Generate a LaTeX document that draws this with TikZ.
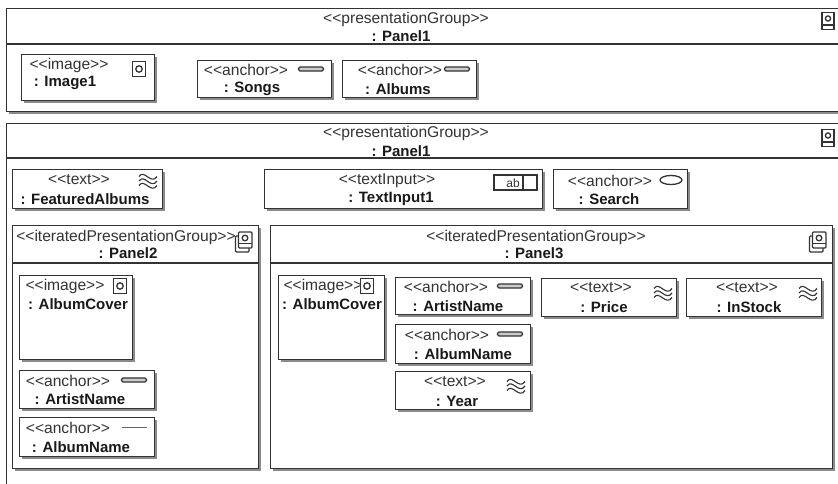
\documentclass[tikz,border=0pt]{standalone}
\usepackage{fontspec}
\newfontfamily\umlfont{Liberation Sans}
\usetikzlibrary{shadows}

\begin{document}
\begin{tikzpicture}[x = 1pt, y = -1pt, font = \umlfont]
    \tikzset{
      outline/.style = {draw = black!80, line width = 1.3pt},
      element/.style = {outline, fill = white, rectangle, anchor = north west, inner sep = 0pt,
        drop shadow = {shadow xshift = 2.5pt, shadow yshift = -2.5pt, fill = black!90}},
      boxsize/.style 2 args = {minimum width = #1pt, minimum height = #2pt},
      stereo/.style = {inner sep = 0pt, text = black!80, font = \umlfont\fontsize{15.6}{17}\selectfont},
      elname/.style = {inner sep = 0pt, text = black!90, font = \umlfont\bfseries\fontsize{15}{17}\selectfont},
      imageicon/.pic = {
        \draw [outline, fill = white] (-6.5, -7.5) rectangle (6.5, 7.5);
        \draw [outline] (0, 0) circle (3.2);
      },
      anchoricon/.pic = {
        \draw [outline, fill = black!20, rounded corners = 1.5pt] (-12.5, -2) rectangle (12.5, 2);
      },
      texticon/.pic = {
        \foreach \wavey in {-4.5, 0, 4.5} {
          \draw [outline, line width = 1.1pt] (-9, \wavey - 1)
            .. controls (-4, \wavey - 9) and (3, \wavey + 8) .. (9, \wavey - 1);
        }
      },
      panelicon/.pic = {
        \draw [outline, fill = white] (-6, -8.5) rectangle (6, 8.5);
        \draw [outline] (0, -2.5) circle (2.6);
        \draw [outline] (-6, 4) -- (6, 4);
      },
      panelstack/.pic = {
        \draw [outline, fill = white, rounded corners = 1pt] (-8.5, -6) rectangle (5, 10);
        \draw [outline, fill = white, rounded corners = 1pt] (-5.5, -10) rectangle (8, 6);
        \draw [outline] (1, -4) circle (2.8);
        \draw [outline] (-5.5, 1.5) -- (8, 1.5);
      },
    }

    \useasboundingbox (0, 0) rectangle (838, 483);

    % upper panel
    \node [element, boxsize = {840}{103}] (panelA) at (6, 8) {};
    \draw [outline] (6, 44) -- (838, 44);
    \node [stereo] (panelAtype) at (406, 19) {<<presentationGroup>>};
    \node [elname] (panelAname) at (401, 36) {: Panel1};
    \pic at (828, 21) {panelicon};

    \node [element, boxsize = {133}{46}] (image1) at (21, 54) {};
    \node [stereo] (image1type) at (69, 65) {<<image>>};
    \node [elname] (image1name) at (65, 83) {: Image1};
    \pic at (139, 69) {imageicon};

    \node [element, boxsize = {134}{37}] (songs) at (197, 60) {};
    \node [stereo] (songstype) at (246, 70) {<<anchor>>};
    \node [elname] (songsname) at (252, 89) {: Songs};
    \pic at (311, 69) {anchoricon};

    \node [element, boxsize = {134}{37}] (albums) at (342, 60) {};
    \node [stereo] (albumstype) at (400, 70) {<<anchor>>};
    \node [elname] (albumsname) at (398, 89) {: Albums};
    \pic at (457, 69) {anchoricon};

    % lower panel
    \node [element, boxsize = {840}{370}] (panelB) at (6, 123) {};
    \draw [outline] (6, 158) -- (838, 158);
    \node [stereo] (panelBtype) at (406, 133) {<<presentationGroup>>};
    \node [elname] (panelBname) at (401, 151) {: Panel1};
    \pic at (828, 138) {panelicon};

    \node [element, boxsize = {150}{39}] (featured) at (12, 169) {};
    \node [stereo] (featuredtype) at (79, 180) {<<text>>};
    \node [elname] (featuredname) at (85, 199) {: FeaturedAlbums};
    \pic at (148, 182) {texticon};

    \node [element, boxsize = {278}{39}] (input1) at (264, 169) {};
    \node [stereo] (input1type) at (387, 181) {<<textInput>>};
    \node [elname] (input1name) at (391, 199) {: TextInput1};
    \node [outline, rectangle, inner sep = 0pt, boxsize = {43}{15}] (abfield) at (515.5, 182.5) {};
    \node [inner sep = 0pt, text = black!80, font = \umlfont\fontsize{12}{14}\selectfont] (abtext) at (513, 183) {ab};
    \draw [outline] (523, 175) -- (523, 190);

    \node [element, boxsize = {134}{39}] (search) at (553, 169) {};
    \node [stereo] (searchtype) at (610, 181) {<<anchor>>};
    \node [elname] (searchname) at (609, 199) {: Search};
    \draw [outline] (671, 180) ellipse (11 and 4.5);

    % iterated group on the left
    \node [element, boxsize = {246}{243}] (panel2) at (12, 225) {};
    \draw [outline] (12, 263) -- (258, 263);
    \node [stereo] (panel2type) at (126, 237) {<<iteratedPresentationGroup>>};
    \node [elname] (panel2name) at (128, 253) {: Panel2};
    \pic at (244, 242) {panelstack};

    \node [element, boxsize = {113}{84}] (cover2) at (19, 275) {};
    \node [stereo] (cover2type) at (65, 286) {<<image>>};
    \node [elname] (cover2name) at (78, 304) {: AlbumCover};
    \pic at (120, 286) {imageicon};

    \node [element, boxsize = {135}{38}] (artist2) at (19, 370) {};
    \node [stereo] (artist2type) at (68, 381) {<<anchor>>};
    \node [elname] (artist2name) at (80, 399) {: ArtistName};
    \pic at (134, 380) {anchoricon};

    \node [element, boxsize = {135}{39}] (album2) at (19, 417) {};
    \node [stereo] (album2type) at (68, 428) {<<anchor>>};
    \node [elname] (album2name) at (81, 447) {: AlbumName};
    \draw [outline, line width = 1pt, draw = black!60] (122, 427) -- (147, 427);

    % iterated group on the right
    \node [element, boxsize = {562}{243}] (panel3) at (270, 225) {};
    \draw [outline] (270, 263) -- (832, 263);
    \node [stereo] (panel3type) at (536, 237) {<<iteratedPresentationGroup>>};
    \node [elname] (panel3name) at (534, 253) {: Panel3};
    \pic at (818, 242) {panelstack};

    \node [element, boxsize = {106}{84}] (cover3) at (278, 275) {};
    \node [stereo] (cover3type) at (323, 286) {<<image>>};
    \node [elname] (cover3name) at (332, 304) {: AlbumCover};
    \pic at (367, 286) {imageicon};

    \node [element, boxsize = {135}{37}] (artist3) at (395, 277) {};
    \node [stereo] (artist3type) at (446, 287) {<<anchor>>};
    \node [elname] (artist3name) at (458, 306) {: ArtistName};
    \pic at (510, 286) {anchoricon};

    \node [element, boxsize = {135}{39}] (album3) at (395, 324) {};
    \node [stereo] (album3type) at (447, 335) {<<anchor>>};
    \node [elname] (album3name) at (463, 354) {: AlbumName};
    \pic at (510, 334) {anchoricon};

    \node [element, boxsize = {135}{38}] (year) at (395, 371) {};
    \node [stereo] (yeartype) at (455, 382) {<<text>>};
    \node [elname] (yearname) at (457, 401) {: Year};
    \pic at (516, 387) {texticon};

    \node [element, boxsize = {135}{38}] (price) at (541, 278) {};
    \node [stereo] (pricetype) at (601, 288) {<<text>>};
    \node [elname] (pricename) at (604, 307) {: Price};
    \pic at (663, 294) {texticon};

    \node [element, boxsize = {135}{38}] (instock) at (686, 278) {};
    \node [stereo] (instocktype) at (747, 288) {<<text>>};
    \node [elname] (instockname) at (749, 307) {: InStock};
    \pic at (808, 294) {texticon};
\end{tikzpicture}
\end{document}
